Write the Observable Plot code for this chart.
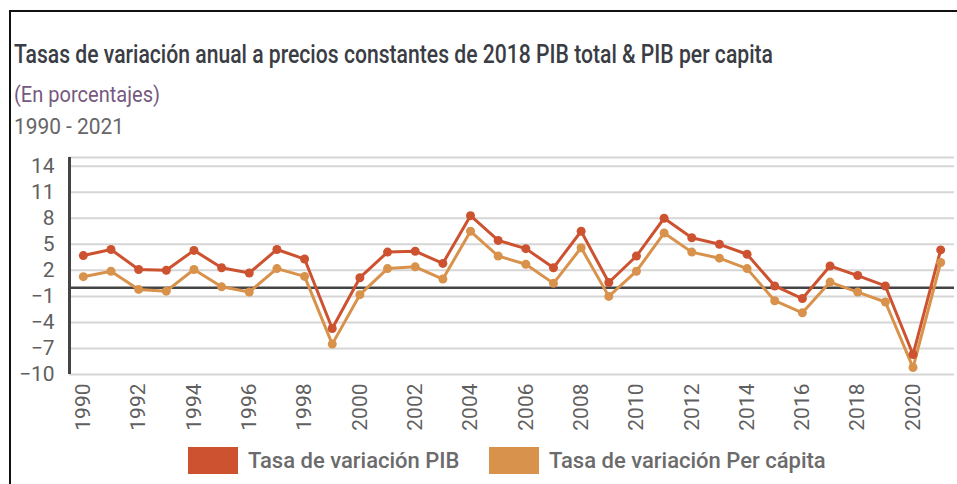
<!DOCTYPE html>
<html>
<head>
<meta charset="utf-8">
<script src="https://cdn.jsdelivr.net/npm/d3@7"></script>
<script src="https://cdn.jsdelivr.net/npm/@observablehq/plot@0.6"></script>
<style>
  html, body { margin: 0; padding: 0; background: #fff; }
  #wrap { position: relative; width: 957px; height: 484px; overflow: hidden; background: #fff; }
  #frame { position: absolute; left: 9px; top: 10px; width: 960px; height: 480px; border-left: 2px solid #111; border-top: 2px solid #111; }
  #titles { position: absolute; left: 0; top: 0; }
  #chart { position: absolute; left: 0; top: 145px; }
  #legend { position: absolute; left: 0; top: 446px; width: 957px; height: 32px; font-family: Roboto, sans-serif; font-weight: 500; font-size: 22px; color: #6b6b6b; }
  .item { position: absolute; top: 0; height: 28px; display: flex; align-items: center; }
  .sw { width: 50px; height: 27px; margin-right: 10px; }
</style>
</head>
<body>
<div id="wrap">
  <div id="frame"></div>
  <svg id="titles" width="957" height="145"></svg>
  <div id="chart"></div>
  <div id="legend"></div>
</div>
<script>
const years = [1990,1991,1992,1993,1994,1995,1996,1997,1998,1999,2000,2001,2002,2003,2004,2005,2006,2007,2008,2009,2010,2011,2012,2013,2014,2015,2016,2017,2018,2019,2020,2021];
const pib = [3.7,4.4,2.1,2.0,4.3,2.3,1.7,4.4,3.3,-4.7,1.15,4.1,4.2,2.8,8.3,5.45,4.5,2.3,6.5,0.6,3.65,8.0,5.75,5.0,3.85,0.2,-1.25,2.5,1.4,0.2,-7.7,4.35];
const perCapita = [1.27,1.9,-0.2,-0.4,2.1,0.1,-0.5,2.2,1.3,-6.5,-0.8,2.2,2.4,1.0,6.5,3.65,2.7,0.5,4.6,-1.0,1.9,6.3,4.1,3.4,2.2,-1.5,-2.9,0.65,-0.5,-1.65,-9.2,2.9];
const seriesNames = ["Tasa de variación PIB", "Tasa de variación Per cápita"];
const seriesColors = ["#cd5230", "#d8924c"];
const yTicks = [-10,-7,-4,-1,2,5,8,11,14];
const xTicks = [1990,1992,1994,1996,1998,2000,2002,2004,2006,2008,2010,2012,2014,2016,2018,2020];
const title = "Tasas de variación anual a precios constantes de 2018 PIB total & PIB per capita";
const subtitle = "(En porcentajes)";
const period = "1990 - 2021";

// titles
const ts = d3.select("#titles");
ts.append("text").attr("x", 14).attr("y", 63).attr("textLength", 759).attr("lengthAdjust", "spacingAndGlyphs")
  .attr("font-family", "Roboto, sans-serif").attr("font-size", 25).attr("font-weight", 500).attr("fill", "#3a3d44").text(title);
ts.append("text").attr("x", 14).attr("y", 102).attr("textLength", 146).attr("lengthAdjust", "spacingAndGlyphs")
  .attr("font-family", "Roboto, sans-serif").attr("font-size", 22).attr("fill", "#76597f").text(subtitle);
ts.append("text").attr("x", 14).attr("y", 134).attr("textLength", 110).attr("lengthAdjust", "spacingAndGlyphs")
  .attr("font-family", "Roboto, sans-serif").attr("font-size", 22).attr("fill", "#666").text(period);

const rows = [];
years.forEach((yr, i) => {
  rows.push({year: yr, value: perCapita[i], serie: seriesNames[1]});
});
years.forEach((yr, i) => {
  rows.push({year: yr, value: pib[i], serie: seriesNames[0]});
});

const chart = Plot.plot({
  width: 957,
  height: 300,
  marginLeft: 69,
  marginRight: 3,
  marginTop: 12,
  marginBottom: 71,
  style: {fontFamily: "Roboto, sans-serif", fontSize: "21px", color: "#5f5f5f", background: "transparent", overflow: "visible"},
  x: {domain: [1989.5, 2021.5]},
  y: {domain: [-10, 15]},
  color: {domain: seriesNames, range: seriesColors},
  marks: [
    Plot.ruleY(yTicks.concat([15]), {stroke: "#d6d6d6", strokeWidth: 2}),
    Plot.ruleY([0], {stroke: "#444", strokeWidth: 2.5}),
    Plot.ruleX([1989.5], {y1: -10, y2: 15, stroke: "#444", strokeWidth: 3}),
    Plot.axisY({ticks: yTicks, tickSize: 0, tickPadding: 15, label: null}),
    Plot.axisX({ticks: xTicks, tickFormat: d => String(d), tickRotate: -90, tickSize: 0, tickPadding: 9, label: null}),
    Plot.line(rows, {x: "year", y: "value", z: "serie", stroke: "serie", strokeWidth: 3}),
    Plot.dot(rows, {x: "year", y: "value", fill: "serie", r: 4.5})
  ]
});
document.getElementById("chart").appendChild(chart);

// legend
const lg = d3.select("#legend");
const lefts = [188, 489];
seriesNames.forEach((n, i) => {
  const it = lg.append("div").attr("class", "item").style("left", lefts[i] + "px");
  it.append("div").attr("class", "sw").style("background", seriesColors[i]);
  it.append("span").text(n);
});
</script>
</body>
</html>
